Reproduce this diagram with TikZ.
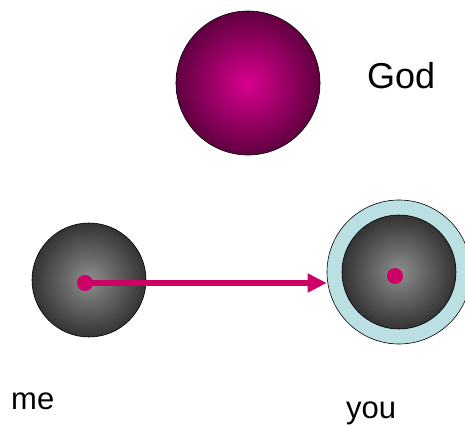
\documentclass[tikz,border=0pt]{standalone}
\usepackage{fontspec}
\setmainfont{Liberation Sans}
\definecolor{godpink}{RGB}{216,0,142}
\definecolor{goddark}{RGB}{96,0,64}
\definecolor{ballgray}{RGB}{142,142,142}
\definecolor{balldark}{RGB}{52,52,52}
\definecolor{ringblue}{RGB}{187,224,228}
\definecolor{dotpink}{RGB}{204,0,102}
\usepackage{tikz}
\usetikzlibrary{arrows.meta, positioning}

\tikzset{
  sphere/.style={circle, draw=black, line width=0.6pt, inner sep=0pt, shading=radial},
  dot/.style={circle, fill=dotpink, minimum size=16pt, inner sep=0pt},
  tagtext/.style={anchor=base west, inner sep=0pt, text=black},
  pointer/.style={draw=dotpink, line width=5.5pt, -{Triangle[length=19pt, width=18pt]}, dotpink}
}

\begin{document}
\begin{tikzpicture}[x=1pt, y=-1pt]
  \clip (0,0) rectangle (465,427);

  % the big one on top
  \node[sphere, minimum size=144pt, inner color=godpink, outer color=goddark] (god) at (248,83) {};
  \node[tagtext, font=\fontsize{36}{40}\selectfont] (godtext) at (367,89) {God};

  % me
  \node[sphere, minimum size=114pt, inner color=ballgray, outer color=balldark] (me) at (89,280) {};
  \node[dot] (medot) at (85,283) {};
  \node[tagtext, font=\fontsize{31}{36}\selectfont] (metext) at (11,409) {me};

  % you, with the ring round it
  \node[circle, draw=black, line width=0.6pt, fill=ringblue, minimum size=144pt, inner sep=0pt] (youring) at (399,272) {};
  \node[sphere, minimum size=114pt, inner color=ballgray, outer color=balldark] (you) at (399,272) {};
  \node[dot] (youdot) at (395,276) {};
  \node[tagtext, font=\fontsize{31}{36}\selectfont] (youtext) at (346,418) {you};

  \draw[pointer] (medot.center) -- (medot.center -| youring.west);
\end{tikzpicture}
\end{document}
